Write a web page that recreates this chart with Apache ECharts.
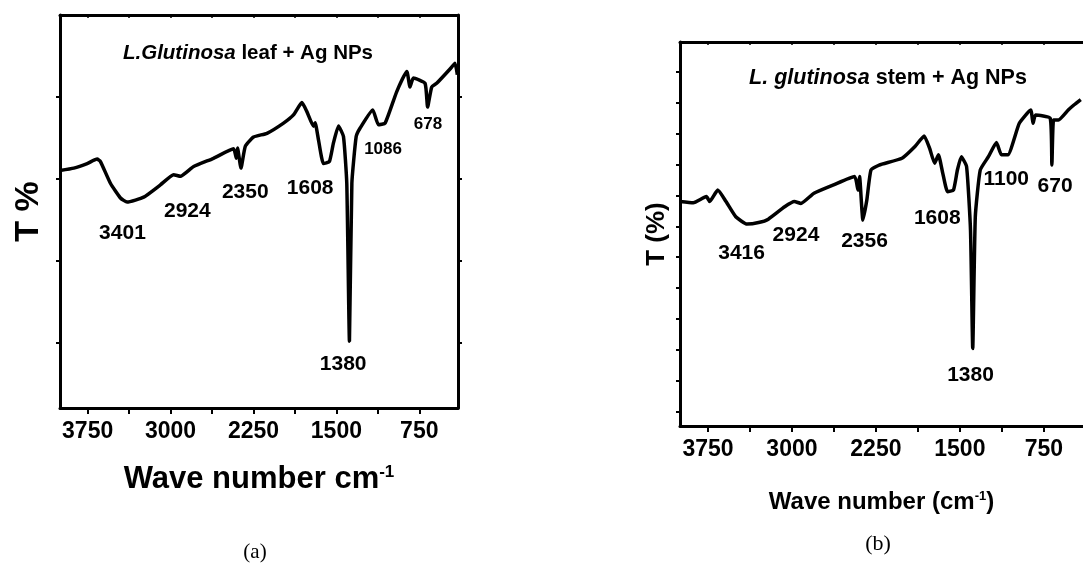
<!DOCTYPE html>
<html>
<head>
    <meta charset="utf-8">
    <title>FTIR</title>
    <script src="https://cdn.jsdelivr.net/npm/echarts@6/dist/echarts.min.js"></script>
</head>
<body style="margin:0; background:#fff;">
    <div id="main" style="width:1083px; height:563px;"></div>

    <script type="text/javascript">

        // (a) leaf: [wave number, T]
        var leafSpectrum = [
            [4000, 62.0], [3875, 62.6], [3754, 63.7], [3664, 64.8], [3634, 64.2], [3544, 58.9],
            [3453, 55.3], [3393, 54.3], [3243, 55.5], [3092, 58.5], [2972, 61.0], [2911, 60.6],
            [2791, 63.0], [2611, 65.0], [2430, 67.3], [2405, 65.0], [2394, 67.5], [2363, 62.6],
            [2324, 67.9], [2249, 70.2], [2128, 71.1], [1978, 73.6], [1888, 75.6], [1812, 78.6],
            [1767, 76.4], [1707, 72.8], [1692, 73.7], [1662, 69.5], [1617, 63.7], [1563, 64.2],
            [1527, 68.7], [1481, 72.9], [1436, 70.3], [1406, 58.9], [1382, 20.3], [1360, 58.9],
            [1321, 70.3], [1285, 72.4], [1171, 76.8], [1120, 73.2], [1059, 73.6], [954, 81.3],
            [863, 86.2], [834, 82.4], [804, 84.6], [698, 83.3], [675, 77.5], [638, 82.4],
            [593, 83.3], [472, 86.8], [427, 88.2], [406, 85.4]
        ];
        var leafPeaks = [
            [3435, 46.8, '3401'], [2848, 52.0, '2924'], [2324, 56.8, '2350'], [1737, 57.8, '1608'],
            [1439, 14.6, '1380']
        ];
        var leafPeaksSmall = [[1078, 67.1, '1086'], [671, 73.2, '678']];

        // (b) stem
        var stemSpectrum = [
            [4000, 78.0], [3881, 77.6], [3764, 79.6], [3735, 78.0], [3663, 81.7], [3589, 78.0],
            [3502, 73.1], [3401, 70.7], [3298, 71.2], [3211, 72.3], [3065, 76.3], [2978, 78.0],
            [2920, 77.4], [2803, 80.7], [2628, 83.4], [2440, 86.1], [2410, 81.7], [2396, 86.1],
            [2366, 72.0], [2331, 78.5], [2294, 88.2], [2221, 89.8], [2017, 92.0], [1901, 95.8],
            [1819, 99.2], [1770, 95.2], [1726, 90.4], [1691, 93.1], [1653, 87.2], [1610, 81.2],
            [1557, 81.7], [1522, 88.2], [1487, 92.5], [1440, 89.3], [1405, 68.8], [1385, 30.5],
            [1362, 73.1], [1318, 88.2], [1245, 92.5], [1173, 97.1], [1129, 93.1], [1071, 93.1],
            [969, 103.3], [867, 107.6], [846, 103.3], [824, 106.0], [693, 104.9], [678, 89.8],
            [663, 104.4], [619, 104.4], [532, 107.6], [479, 109.3], [420, 111.0]
        ];
        var stemPeaks = [
            [3450, 61.3, '3416'], [2964, 67.2, '2924'], [2352, 65.3, '2356'], [1702, 72.6, '1608'],
            [1405, 21.9, '1380'], [1086, 85.2, '1100'], [649, 82.8, '670']
        ];

        var xTicks = [3750, 3375, 3000, 2625, 2250, 1875, 1500, 1125, 750];
        var xLabels = [3750, 3000, 2250, 1500, 750];
        var leafYTicks = [20, 40, 60, 80];
        var stemYTicks = [10, 20, 30, 40, 50, 60, 70, 80, 90, 100, 110, 120];

        var sans = "'Liberation Sans', Arial, sans-serif";
        var serif = "'Liberation Serif', 'Times New Roman', serif";

        function bottomAxis(grid, nameText, nameSize, gap) {
            return {
                type: 'value', gridIndex: grid, inverse: true, min: 400, max: 4000, position: 'bottom',
                splitLine: {show: false},
                axisLine: {onZero: false, lineStyle: {color: '#000', width: 3}},
                axisTick: {customValues: xTicks, length: 6, lineStyle: {color: '#000', width: 2}},
                axisLabel: {customValues: xLabels, color: '#000', fontFamily: sans,
                            fontWeight: 'bold', fontSize: 23, margin: 12,
                            formatter: function (v) { return String(v); }},
                name: nameText, nameLocation: 'middle', nameGap: gap,
                nameTextStyle: {
                    color: '#000', fontFamily: sans, fontWeight: 'bold', fontSize: nameSize,
                    rich: {
                        b: {fontFamily: sans, fontWeight: 'bold', fontSize: nameSize, color: '#000'},
                        sup: {fontFamily: sans, fontWeight: 'bold', fontSize: Math.round(nameSize * 0.55),
                              color: '#000', verticalAlign: 'top', padding: [0, 0, nameSize * 0.45, 0]}
                    }
                }
            };
        }

        function topAxis(grid) {
            return {
                type: 'value', gridIndex: grid, inverse: true, min: 400, max: 4000, position: 'top',
                splitLine: {show: false},
                axisLine: {onZero: false, lineStyle: {color: '#000', width: 3}},
                axisTick: {customValues: xTicks, inside: true, length: 3, lineStyle: {color: '#000', width: 1.5}},
                axisLabel: {show: false}
            };
        }

        function sideAxis(grid, pos, lo, hi, ticks, nameText, nameSize, gap) {
            return {
                type: 'value', gridIndex: grid, position: pos, min: lo, max: hi,
                splitLine: {show: false},
                axisLine: {onZero: false, lineStyle: {color: '#000', width: 3}},
                axisTick: {customValues: ticks, length: 4, lineStyle: {color: '#000', width: 2}},
                axisLabel: {show: false},
                name: nameText, nameLocation: 'middle', nameGap: gap, nameRotate: 90,
                nameTextStyle: {color: '#000', fontFamily: sans, fontWeight: 'bold', fontSize: nameSize}
            };
        }

        function peakSeries(xi, yi, data, size) {
            return {
                type: 'scatter', xAxisIndex: xi, yAxisIndex: yi, symbolSize: 0,
                data: data, silent: true, itemStyle: {opacity: 1},
                label: {show: true, position: 'inside', color: '#000', opacity: 1, fontFamily: sans,
                        fontWeight: 'bold', fontSize: size,
                        formatter: function (p) { return p.data[2]; }}
            };
        }

        var myChart = echarts.init(document.getElementById('main'));

        myChart.setOption({
            backgroundColor: '#fff',
            animation: false,
            title: [
                {text: '{i|L.Glutinosa} leaf + Ag NPs', left: 243, top: 38, textAlign: 'center',
                 textStyle: {fontFamily: sans, fontWeight: 'bold', fontSize: 20.5, color: '#000',
                             rich: {i: {fontFamily: sans, fontStyle: 'italic', fontWeight: 'bold', fontSize: 20.5, color: '#000'}}}},
                {text: '{i|L. glutinosa} stem + Ag NPs', left: 883, top: 62, textAlign: 'center',
                 textStyle: {fontFamily: sans, fontWeight: 'bold', fontSize: 21.5, color: '#000',
                             rich: {i: {fontFamily: sans, fontStyle: 'italic', fontWeight: 'bold', fontSize: 21.5, color: '#000'}}}},
                {text: '(a)', left: 250, top: 537, textAlign: 'center',
                 textStyle: {fontFamily: serif, fontWeight: 'normal', fontSize: 21, color: '#000'}},
                {text: '(b)', left: 873, top: 528, textAlign: 'center',
                 textStyle: {fontFamily: serif, fontWeight: 'normal', fontSize: 22, color: '#000'}}
            ],
            grid: [
                {left: 60, top: 15, width: 398, height: 393},
                {left: 680, top: 42, width: 412, height: 384}
            ],
            xAxis: [
                bottomAxis(0, '{b|Wave number cm}{sup|-1}', 31, 56),
                topAxis(0),
                bottomAxis(1, '{b|Wave number (cm}{sup|-1}{b|)}', 24, 64),
                topAxis(1)
            ],
            yAxis: [
                sideAxis(0, 'left', 4, 100, leafYTicks, 'T %', 34, 14),
                sideAxis(0, 'right', 4, 100, leafYTicks, '', 12, 10),
                sideAxis(1, 'left', 5.4, 129.6, stemYTicks, 'T (%)', 26, 10)
            ],
            series: [
                {type: 'line', xAxisIndex: 0, yAxisIndex: 0, data: leafSpectrum, showSymbol: false,
                 smooth: 0.15, lineStyle: {color: '#000', width: 3.5}, silent: true},
                {type: 'line', xAxisIndex: 2, yAxisIndex: 2, data: stemSpectrum, showSymbol: false,
                 smooth: 0.15, lineStyle: {color: '#000', width: 3.5}, silent: true},
                peakSeries(0, 0, leafPeaks, 21),
                peakSeries(0, 0, leafPeaksSmall, 17),
                peakSeries(2, 2, stemPeaks, 21)
            ]
        });
    </script>
</body>
</html>
